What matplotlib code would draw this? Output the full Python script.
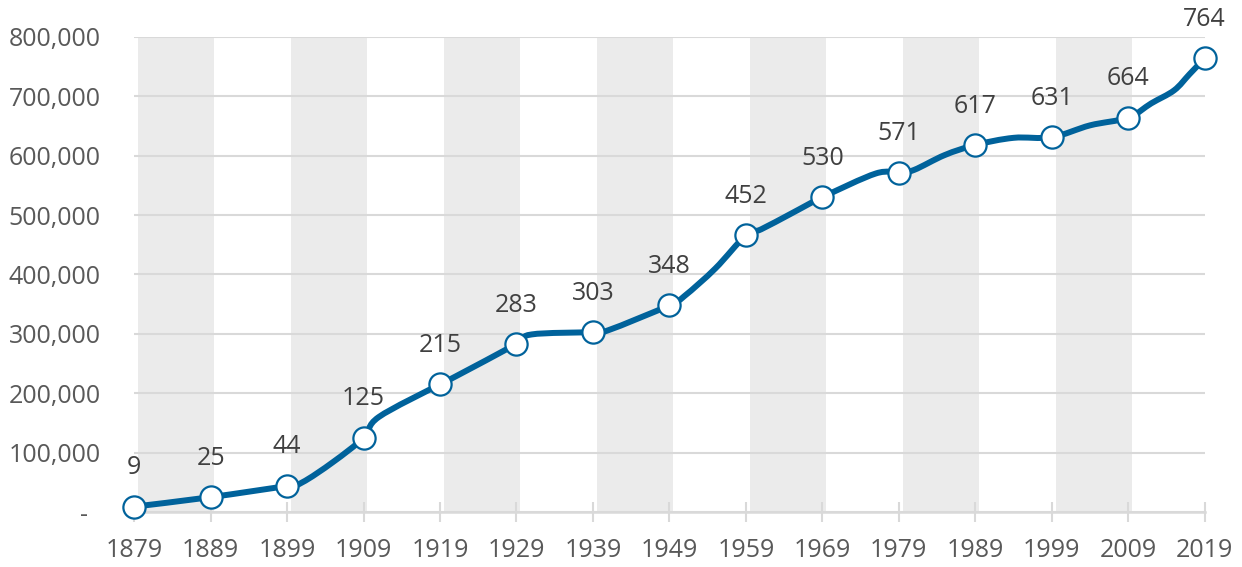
import matplotlib.pyplot as plt
import numpy as np
from matplotlib.path import Path
from matplotlib.patches import PathPatch
from matplotlib.ticker import FuncFormatter

plt.rcParams['font.family'] = ['Open Sans', 'DejaVu Sans']

# Decade census points (markers)
decades = [1879, 1889, 1899, 1909, 1919, 1929, 1939, 1949, 1959, 1969,
           1979, 1989, 1999, 2009, 2019]
decade_pop = [9000, 25000, 44000, 125000, 215000, 283000, 303000, 348000,
              466000, 530000, 571000, 618000, 631000, 664000, 764000]
# data labels as printed on the chart (thousands)
label_text = ["9", "25", "44", "125", "215", "283", "303", "348", "452",
              "530", "571", "617", "631", "664", "764"]

# all points of the line, incl. in-between counts
line_years = [1879, 1889, 1899, 1901, 1905, 1909, 1911, 1919, 1921, 1929,
              1931, 1939, 1941, 1949, 1951, 1955, 1959, 1961, 1965, 1969,
              1976, 1979, 1981, 1985, 1989, 1994, 1999, 2004, 2009, 2012,
              2015, 2017, 2019]
line_pop = [9000, 25000, 44000, 50000, 84000, 125000, 160000, 215000,
            228000, 283000, 299000, 303000, 306000, 348000, 364000, 410000,
            466000, 476000, 503000, 530000, 570000, 571000, 576000, 601000,
            618000, 630000, 631000, 651000, 664000, 688000, 710000, 737000,
            764000]

# shaded decades
band_starts = [1879, 1899, 1919, 1939, 1959, 1979, 1999]

blue = '#00629B'
grid_col = '#D9D9D9'


def smooth_path(xs, ys):
    # Excel style smoothed line: cubic Bezier through every point
    pts = np.column_stack([xs, ys]).astype(float)
    n = len(pts)
    verts = [pts[0]]
    codes = [Path.MOVETO]
    for i in range(n - 1):
        p0 = pts[i - 1] if i > 0 else pts[i]
        p1 = pts[i]
        p2 = pts[i + 1]
        p3 = pts[i + 2] if i + 2 < n else pts[i + 1]
        c1 = p1 + (p2 - p0) / 6.0
        c2 = p2 - (p3 - p1) / 6.0
        verts += [c1, c2, p2]
        codes += [Path.CURVE4] * 3
    return Path(verts, codes)


fig = plt.figure(figsize=(12.42, 5.67), dpi=100)
ax = fig.add_axes([0.108, 0.097, 0.862, 0.838])

for s in band_starts:
    ax.axvspan(s + 0.5, s + 10.5, color='#EBEBEB', lw=0, zorder=0)

ax.set_axisbelow(True)
ax.grid(axis='y', color=grid_col, lw=1.5)

patch = PathPatch(smooth_path(line_years, line_pop), facecolor='none',
                  edgecolor=blue, lw=4.3, capstyle='round', joinstyle='round',
                  zorder=3)
ax.add_patch(patch)

ax.plot(decades, decade_pop, 'o', ms=16, mfc='white', mec=blue, mew=1.6,
        clip_on=False, zorder=4)

for x, y, t in zip(decades, decade_pop, label_text):
    ax.annotate(t, (x, y), xytext=(0, 28), textcoords='offset points',
                ha='center', va='center', fontsize=18, color='#404040',
                annotation_clip=False)

ax.set_xlim(1879, 2019)
ax.set_ylim(0, 800000)
ax.set_xticks(decades)
ax.set_yticks(np.arange(0, 800001, 100000))
ax.yaxis.set_major_formatter(FuncFormatter(
    lambda v, p: '-  ' if v == 0 else f'{int(v):,}'))

for side in ['top', 'right', 'left']:
    ax.spines[side].set_visible(False)
ax.spines['bottom'].set_color(grid_col)
ax.spines['bottom'].set_linewidth(1.8)
ax.spines['bottom'].set_zorder(1)

ax.tick_params(axis='y', length=0, pad=24, labelsize=18, labelcolor='#595959')
ax.tick_params(axis='x', direction='inout', length=14, width=1.5,
               color=grid_col, pad=12, labelsize=18, labelcolor='#595959')

fig.savefig('out.png', dpi=100)
